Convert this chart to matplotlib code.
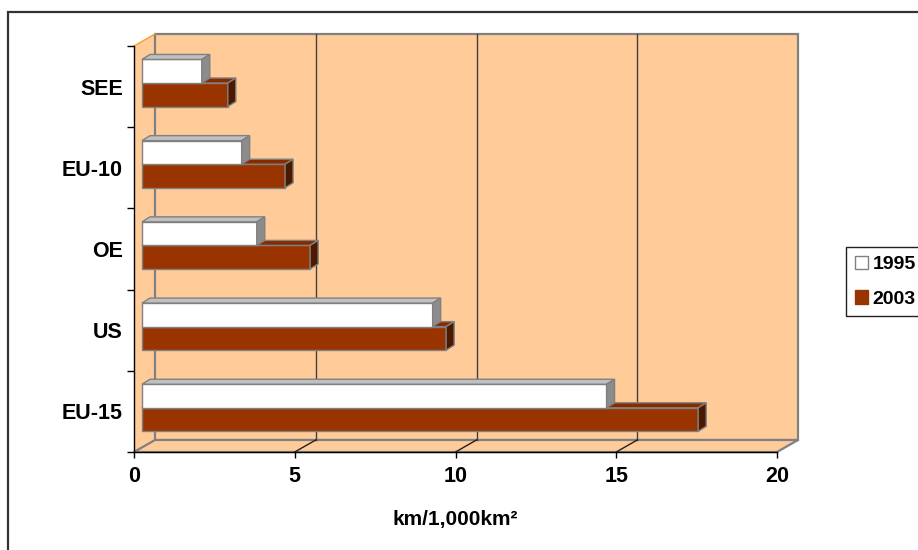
import matplotlib
matplotlib.use('Agg')
import matplotlib.pyplot as plt
from matplotlib.patches import Polygon, Rectangle, Patch

# ---------------- data ----------------
categories = ['EU-15', 'US', 'OE', 'EU-10', 'SEE']   # bottom to top
series_names = ['1995', '2003']
values_1995 = [14.45, 9.04, 3.57, 3.10, 1.86]
values_2003 = [17.3, 9.46, 5.23, 4.45, 2.67]
x_ticks = [0, 5, 10, 15, 20]
x_label = 'km/1,000km²'

# ---------------- style ----------------
plt.rcParams['font.family'] = ['Liberation Sans', 'DejaVu Sans']
W, H = 918, 550
fig = plt.figure(figsize=(W / 100, H / 100), dpi=100)

WALL = '#FFCC99'
EDGE = '#808080'
BROWN, BROWN_TOP, BROWN_SIDE = '#993300', '#862C00', '#4C1900'
WHITE, WHITE_TOP, WHITE_SIDE = '#FFFFFF', '#C0C0C0', '#8C8C8C'
FS = 15.5

# front plane of axes in pixels
L, R, T, B = 134, 777, 46, 452
ax = fig.add_axes([L / W, 1 - B / H, (R - L) / W, (B - T) / H])
ax.set_xlim(0, 20)
ax.set_ylim(0, 5)
ax.patch.set_visible(False)

px_x = 20 / (R - L)
px_y = 5 / (B - T)
wdx, wdy = 21 * px_x, 12 * px_y      # wall depth
ox, oy = 8 * px_x, 3.6 * px_y        # bar front-face offset
bdx, bdy = 8 * px_x, 5 * px_y        # bar depth
bh = 0.29                            # bar thickness

# walls
ax.add_patch(Polygon([(0, 0), (wdx, wdy), (wdx, 5 + wdy), (0, 5)],
                     closed=True, facecolor=WALL, edgecolor='none',
                     zorder=0.5, clip_on=False))
ax.add_patch(Rectangle((wdx, wdy), 20, 5, facecolor=WALL, edgecolor=EDGE,
                       lw=1.6, zorder=0.6, clip_on=False))
ax.add_patch(Polygon([(0, 0), (20, 0), (20 + wdx, wdy), (wdx, wdy)],
                     closed=True, facecolor=WALL, edgecolor=EDGE, lw=1.6,
                     zorder=0.7, clip_on=False))
ax.plot([0, wdx], [5, 5 + wdy], color='#F5A030', lw=1.0, zorder=0.8,
        clip_on=False)
for v in x_ticks[1:-1]:
    ax.plot([v + wdx, v + wdx], [wdy, 5 + wdy], color='#404040', lw=1.0,
            zorder=0.9, clip_on=False)
    ax.plot([v, v + wdx], [0, wdy], color='#202020', lw=1.0, zorder=0.9,
            clip_on=False)


def draw_series(values, offset, face, top, side, z):
    centers = [i + 0.5 + oy + offset for i in range(len(values))]
    bars = ax.barh(centers, values, height=bh, left=ox, color=face,
                   edgecolor=EDGE, lw=1.0, zorder=z, clip_on=False)
    for b in bars:
        x0, y0 = b.get_x(), b.get_y()
        x1, y1 = x0 + b.get_width(), y0 + b.get_height()
        ax.add_patch(Polygon([(x0, y1), (x1, y1), (x1 + bdx, y1 + bdy),
                              (x0 + bdx, y1 + bdy)], closed=True,
                             facecolor=top, edgecolor=EDGE, lw=1.0,
                             zorder=z, clip_on=False))
        ax.add_patch(Polygon([(x1, y0), (x1 + bdx, y0 + bdy),
                              (x1 + bdx, y1 + bdy), (x1, y1)], closed=True,
                             facecolor=side, edgecolor=EDGE, lw=1.0,
                             zorder=z, clip_on=False))
    return bars


draw_series(values_2003, -bh / 2, BROWN, BROWN_TOP, BROWN_SIDE, 2)
draw_series(values_1995, bh / 2, WHITE, WHITE_TOP, WHITE_SIDE, 3)

# spines & ticks
for s in ['top', 'right']:
    ax.spines[s].set_visible(False)
for s in ['left', 'bottom']:
    ax.spines[s].set_color('black')
    ax.spines[s].set_linewidth(1.0)
    ax.spines[s].set_zorder(5)

ax.set_xticks(x_ticks)
ax.set_xticklabels([str(t) for t in x_ticks], fontsize=FS,
                   fontweight='bold')
ax.tick_params(axis='x', length=4, width=1, pad=6, color='black')

ax.set_yticks(range(0, 6))
ax.set_yticklabels([])
ax.tick_params(axis='y', which='major', length=5, width=1, color='black')
ax.set_yticks([i + 0.5 for i in range(len(categories))], minor=True)
ax.set_yticklabels(categories, minor=True, fontsize=FS, fontweight='bold')
ax.tick_params(axis='y', which='minor', length=0, pad=8)

# axis label
fig.text(455 / W, 1 - 519 / H, x_label, ha='center', va='center',
         fontsize=15, fontweight='bold')

# legend
handles = [Patch(facecolor=WHITE, edgecolor=EDGE, lw=1.0),
           Patch(facecolor=BROWN, edgecolor=BROWN, lw=1.0)]
leg = fig.legend(handles, series_names, loc='upper left',
                 bbox_to_anchor=(846 / W, 1 - 247 / H),
                 frameon=True, fancybox=False, framealpha=1,
                 edgecolor='#202020',
                 prop={'size': 14, 'weight': 'bold'},
                 handlelength=0.7, handleheight=0.7, handletextpad=0.22,
                 labelspacing=0.85, borderpad=0.45, borderaxespad=0)
leg.get_frame().set_linewidth(1.0)

# outer border of the chart area
fig.add_artist(Rectangle((8 / W, -0.02), 1.0, 1 - 12 / H + 0.02,
                         transform=fig.transFigure, fill=False,
                         edgecolor='#333333', lw=1.6))

fig.savefig('out.png', dpi=100)
